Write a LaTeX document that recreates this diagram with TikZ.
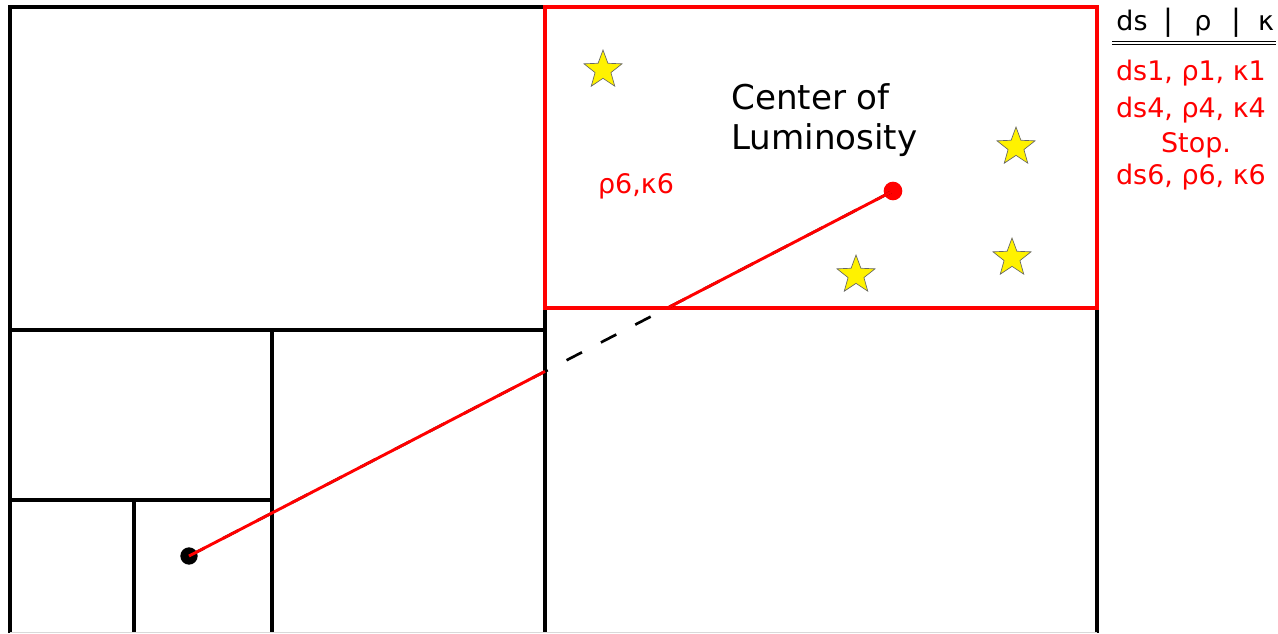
\documentclass[tikz,border=0pt]{standalone}
\usepackage{fontspec}
\setmainfont{DejaVu Sans}
\usetikzlibrary{shapes.geometric,calc}
\begin{document}
\begin{tikzpicture}[x=0.75pt,y=-0.75pt,
  cell/.style={line width=2.3pt,black},
  redbox/.style={line width=2.3pt,red},
  starshape/.style={star,star points=5,star point ratio=2.4,fill=yellow,draw=gray!80!black,line width=0.5pt,minimum size=30pt,inner sep=0pt},
  lbl/.style={font=\fontsize{25.6}{30}\selectfont,inner sep=0pt},
  tbl/.style={font=\fontsize{20.2}{23}\selectfont,inner sep=0pt,text=red},
  hdr/.style={font=\fontsize{20.2}{23}\selectfont,inner sep=0pt,text=black,anchor=base},
  ray/.style={line width=2.2pt,red},
  dashray/.style={line width=2pt,black,dash pattern=on 13pt off 16pt}]
\useasboundingbox (0,0) rectangle (1278,633);
% grid cells
\draw[cell] (10,633) -- (10,7) -- (545,7);
\draw[cell] (545,7) -- (545,633);
\draw[cell] (10,330) -- (545,330);
\draw[cell] (272,330) -- (272,633);
\draw[cell] (10,500) -- (272,500);
\draw[cell] (134,500) -- (134,633);
\draw[cell] (1097,308) -- (1097,633);
\draw[gray!30,line width=1pt] (10,632.5) -- (1097,632.5);
\draw[redbox] (545,7) rectangle (1097,308);
% stars
\node[starshape] (s1) at (603,70) {};
\node[starshape] (s2) at (1016,147) {};
\node[starshape] (s3) at (1012,258) {};
\node[starshape] (s4) at (856,275) {};
% texts
\node[lbl,anchor=west,align=left] (col) at (731,120) {Center of\\Luminosity};
\node[tbl,anchor=center] (pk) at (636,186) {ρ6,κ6};
% ray
\node[circle,fill=black,inner sep=0pt,minimum size=13pt] (src) at (189,556) {};
\node[circle,fill=red,inner sep=0pt,minimum size=14pt] (dst) at (893,191) {};
\draw[dashray] (src.center) -- (dst.center);
\coordinate (cx) at ($(src.center)!0.5057!(dst.center)$);
\coordinate (cy) at ($(src.center)!0.6795!(dst.center)$);
\draw[ray] (src.center) -- (cx);
\draw[ray] (cy) -- (dst.center);
% table
\node[hdr] (h1) at (1132,30) {ds};
\node[hdr,font=\fontsize{22}{26}\selectfont] (h2) at (1168,30) {|};
\node[hdr] (h3) at (1203,30) {ρ};
\node[hdr,font=\fontsize{22}{26}\selectfont] (h4) at (1236,30) {|};
\node[hdr] (h5) at (1266,30) {κ};
\draw[line width=1.3pt] (1112,41.5) -- (1276,41.5);
\draw[line width=1.3pt] (1112,44.5) -- (1276,44.5);
\node[tbl] (r1) at (1191,73) {ds1, ρ1, κ1};
\node[tbl] (r2) at (1191,110) {ds4, ρ4, κ4};
\node[tbl] (r3) at (1196,145) {Stop.};
\node[tbl] (r4) at (1191,177) {ds6, ρ6, κ6};
\end{tikzpicture}
\end{document}
